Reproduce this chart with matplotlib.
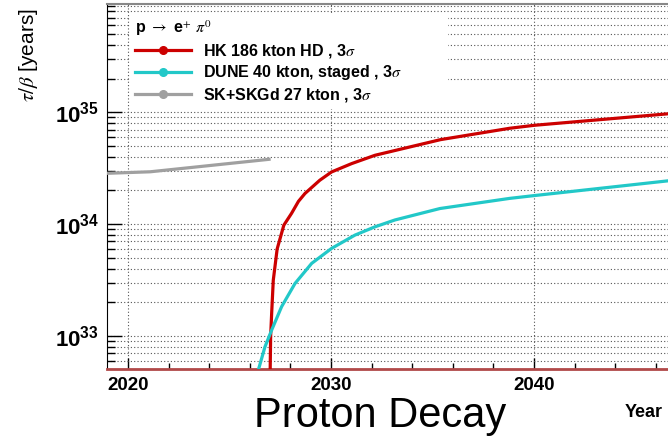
import numpy as np
import matplotlib.pyplot as plt
from matplotlib.ticker import MultipleLocator, LogLocator, NullFormatter
from matplotlib.lines import Line2D

plt.rcParams['font.family'] = ['Liberation Sans', 'DejaVu Sans']
plt.rcParams['mathtext.fontset'] = 'stix'

# sensitivity curves (year, tau/beta in years)
hk_year = [2026.99, 2027.03, 2027.08, 2027.16, 2027.35, 2027.68, 2028.06, 2028.40,
           2028.72, 2029.45, 2030.03, 2031.02, 2032.17, 2035.40, 2038.80, 2040.00,
           2046.60]
hk_life = [3e32, 1.0e33, 1.6e33, 3.16e33, 6.0e33, 9.8e33, 1.25e34, 1.6e34,
           1.88e34, 2.47e34, 2.93e34, 3.48e34, 4.13e34, 5.7e34, 7.2e34, 7.65e34,
           9.7e34]

dune_year = [2026.40, 2026.75, 2027.08, 2027.57, 2028.23, 2029.05, 2030.03, 2031.18,
             2032.17, 2033.15, 2035.37, 2038.80, 2040.00, 2046.60]
dune_life = [4.8e32, 8.0e32, 1.13e33, 1.83e33, 2.95e33, 4.46e33, 6.07e33, 7.98e33,
             9.47e33, 1.09e34, 1.38e34, 1.7e34, 1.8e34, 2.44e34]

sk_year = [2019.0, 2021.1, 2026.95]
sk_life = [2.85e34, 2.94e34, 3.8e34]

labels = ["HK 186 kton HD , 3$\\sigma$",
          "DUNE 40 kton, staged , 3$\\sigma$",
          "SK+SKGd 27 kton , 3$\\sigma$"]
colors = ['#cc0000', '#22c8c8', '#a0a0a0']

fig = plt.figure(figsize=(6.68, 4.36), dpi=100)
ax = fig.add_axes([107/668, 67/436, 561/668, 365/436])

ax.plot(hk_year, hk_life, color=colors[0], lw=2.3, zorder=3)
ax.plot(dune_year, dune_life, color=colors[1], lw=2.3, zorder=3)
ax.plot(sk_year, sk_life, color=colors[2], lw=2.3, zorder=3)

ax.set_yscale('log')
ax.set_xlim(2018.97, 2046.6)
ax.set_ylim(5.07e32, 9.3e35)

ax.xaxis.set_major_locator(MultipleLocator(10))
ax.xaxis.set_minor_locator(MultipleLocator(2))
ax.yaxis.set_minor_locator(LogLocator(base=10, subs=np.arange(2, 10), numticks=20))
ax.yaxis.set_minor_formatter(NullFormatter())
ax.set_yticks([1e33, 1e34, 1e35])
ax.set_yticklabels(['$\\mathregular{10^{33}}$', '$\\mathregular{10^{34}}$',
                    '$\\mathregular{10^{35}}$'])

ax.grid(True, which='major', axis='x', ls=(0, (1, 2)), color='#555555', lw=0.8)
ax.grid(True, which='both', axis='y', ls=(0, (1, 2)), color='#555555', lw=0.8)

ax.tick_params(axis='x', which='major', direction='in', length=8, width=1, pad=6,
               labelsize=13.5)
ax.tick_params(axis='x', which='minor', direction='in', length=4, width=1)
ax.tick_params(axis='y', which='major', direction='in', length=11, width=1, pad=6,
               labelsize=16)
ax.tick_params(axis='y', which='minor', direction='in', length=6, width=1)
for lab in ax.get_xticklabels() + ax.get_yticklabels():
    lab.set_fontweight('bold')

ax.spines['right'].set_visible(False)
ax.spines['top'].set_color('#888888')
ax.spines['top'].set_linewidth(1.5)
ax.spines['bottom'].set_color('#b04848')
ax.spines['bottom'].set_linewidth(2)

handles = [Line2D([], [], color=c, lw=2.3, marker='o', ms=5.5) for c in colors]
leg = ax.legend(handles, labels, loc='upper left',
                bbox_to_anchor=(0.041, 0.975, 0.567, 0.0), mode='expand',
                title='p $\\rightarrow$ e$^{+}$ $\\pi^{0}$', alignment='left',
                prop={'weight': 'bold', 'size': 11.5}, frameon=True, fancybox=False,
                framealpha=1, edgecolor='none', facecolor='white',
                handlelength=3.5, handletextpad=0.75, labelspacing=0.22,
                borderpad=0.3, borderaxespad=0)
leg.get_title().set_fontweight('bold')
leg.get_title().set_fontsize(11.5)
leg._legend_box.sep = 3
leg.set_zorder(5)

fig.text(28/668, 1 - 8/436, '$\\tau/\\beta$ [years]', rotation=90, ha='center',
         va='top', fontsize=15)
fig.text(380/668, 1 - 427/436, 'Proton Decay', ha='center', va='baseline', fontsize=30)
fig.text(663/668, 1 - 417/436, 'Year', ha='right', va='baseline', fontsize=13,
         fontweight='bold')

fig.savefig('out.png', dpi=100)
